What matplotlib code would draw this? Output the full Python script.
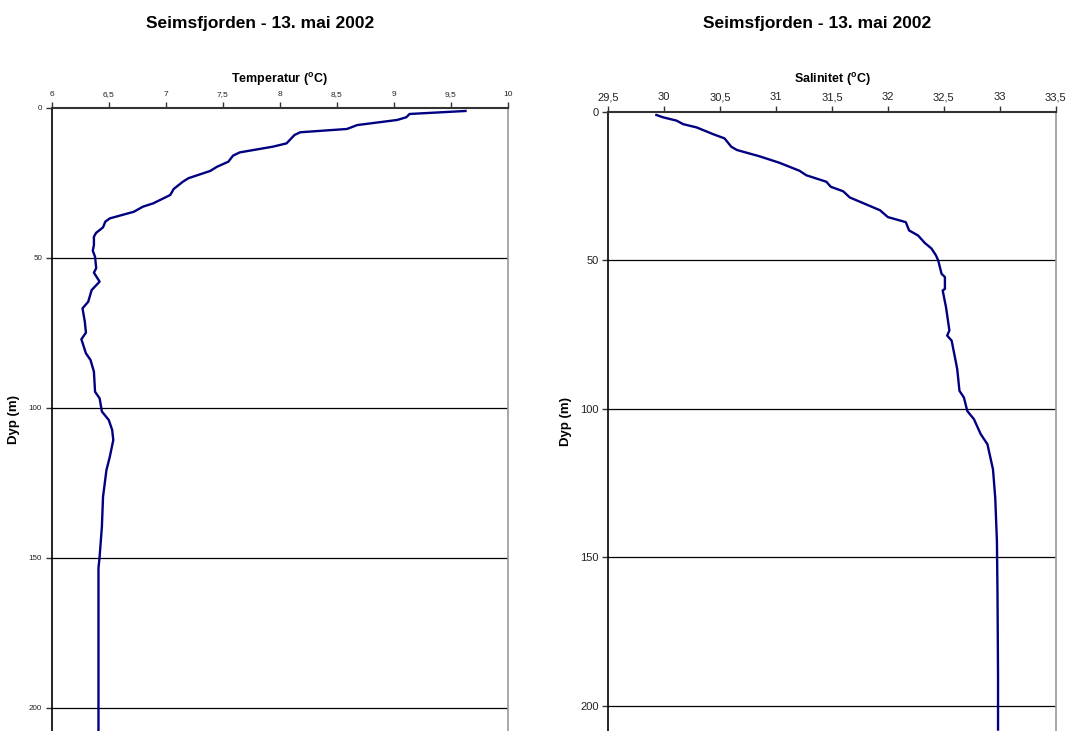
import matplotlib
matplotlib.use('Agg')
from matplotlib import pyplot as plt

plt.rcParams['font.family'] = ['Liberation Sans', 'DejaVu Sans']
plt.rcParams['mathtext.fontset'] = 'custom'
plt.rcParams['mathtext.rm'] = 'Liberation Sans'
plt.rcParams['mathtext.bf'] = 'Liberation Sans:bold'

# Temperature profile (depth in m, temperature in degC)
temp_depth = [1.1, 2.1, 3.2, 4.1, 5.8, 7.1, 8.2, 9.1, 11.9, 13.0, 14.9, 16.0, 18.0,
              19.7, 21.1, 23.5, 24.7, 27.1, 29.1, 31.9, 33.0, 34.7, 36.9, 38.0,
              39.9, 41.7, 43.0, 45.8, 47.7, 49.7, 53.5, 55.0, 58.0, 60.8, 64.7,
              66.9, 71.3, 75.0, 77.2, 81.9, 84.1, 88.0, 94.7, 96.9, 101.3, 104.1,
              107.4, 110.8, 116.3, 120.8, 129.7, 139.7, 149.7, 153.5, 175.0,
              198.0, 208.0]
temp = [9.63, 9.14, 9.11, 9.03, 8.68, 8.59, 8.18, 8.13, 8.06, 7.94, 7.65, 7.59, 7.55,
        7.45, 7.39, 7.20, 7.15, 7.07, 7.04, 6.89, 6.80, 6.72, 6.51, 6.47,
        6.45, 6.39, 6.37, 6.37, 6.36, 6.38, 6.39, 6.37, 6.42, 6.35, 6.32,
        6.27, 6.29, 6.30, 6.26, 6.30, 6.34, 6.37, 6.38, 6.42, 6.44, 6.50,
        6.53, 6.54, 6.51, 6.48, 6.45, 6.44, 6.42, 6.41, 6.41,
        6.41, 6.41]

# Salinity profile
sal_depth = [1.0, 1.8, 2.9, 4.1, 5.2, 7.5, 8.9, 11.7, 12.8, 14.9, 17.1, 19.8, 21.3,
             23.5, 25.2, 26.7, 28.8, 33.1, 35.4, 37.1, 39.9, 41.6, 44.1, 46.0,
             48.3, 50.0, 54.5, 55.6, 59.6, 60.1, 65.8, 73.6, 75.3, 77.0, 82.7,
             86.6, 93.9, 96.2, 100.7, 103.5, 108.5, 111.9, 120.4, 130.0, 144.6,
             161.5, 190.0, 208.0]
sal = [29.93, 29.99, 30.11, 30.17, 30.29, 30.44, 30.54, 30.60, 30.65, 30.85, 31.03,
       31.21, 31.27, 31.45, 31.49, 31.60, 31.66, 31.93, 32.00, 32.16, 32.19, 32.27,
       32.33, 32.39, 32.43, 32.45, 32.48, 32.51, 32.51, 32.49, 32.52, 32.55, 32.53,
       32.57, 32.60, 32.62, 32.64, 32.68, 32.71, 32.77, 32.83, 32.89, 32.94, 32.96,
       32.975, 32.98, 32.985, 32.985]

temp_ticks = [6, 6.5, 7, 7.5, 8, 8.5, 9, 9.5, 10]
sal_ticks = [29.5, 30, 30.5, 31, 31.5, 32, 32.5, 33, 33.5]
depth_ticks = [0, 50, 100, 150, 200]

title = 'Seimsfjorden - 13. mai 2002'
line_color = '#000080'

fig = plt.figure(figsize=(10.69, 7.31), dpi=100)


def fmt(v):
    return ('%g' % v).replace('.', ',')


def style_axis(ax, xticks, ylim, xfs, yfs):
    ax.set_xlim(xticks[0], xticks[-1])
    ax.set_ylim(ylim, 0)
    ax.xaxis.tick_top()
    ax.xaxis.set_label_position('top')
    ax.set_xticks(xticks)
    ax.set_xticklabels([fmt(t) for t in xticks], fontsize=xfs, color='#222222')
    ax.set_yticks(depth_ticks)
    ax.set_yticklabels([str(t) for t in depth_ticks], fontsize=yfs, color='#222222')
    ax.tick_params(axis='both', direction='out', length=4, width=1, pad=3, color='#333333')
    for y in depth_ticks[1:]:
        ax.axhline(y, color='black', lw=0.9, zorder=1)
    ax.spines['bottom'].set_visible(False)
    ax.spines['right'].set_color('#999999')
    ax.spines['right'].set_linewidth(1.2)
    ax.spines['left'].set_color('black')
    ax.spines['top'].set_color('#333333')
    ax.spines['top'].set_linewidth(1.5)
    ax.spines['left'].set_linewidth(1.2)


# Left panel: temperature
ax1 = fig.add_axes([0.0484, 0.0, 0.4265, 0.8527])
ax1.plot(temp, temp_depth, color=line_color, lw=1.7, zorder=3)
style_axis(ax1, temp_ticks, 207.8, 6, 5.8)
ax1.set_xlabel(r'Temperatur ($\mathbf{^o}$C)', fontsize=9, fontweight='bold', labelpad=6)
ax1.set_ylabel('Dyp (m)', fontsize=9.5, fontweight='bold')
ax1.yaxis.set_label_coords(-0.0695, 0.5)

# Right panel: salinity
ax2 = fig.add_axes([0.569, 0.0, 0.4185, 0.8468])
ax2.plot(sal, sal_depth, color=line_color, lw=1.7, zorder=3)
style_axis(ax2, sal_ticks, 208.5, 8, 8)
ax2.set_xlabel(r'Salinitet ($\mathbf{^o}$C)', fontsize=9, fontweight='bold', labelpad=7)
ax2.set_ylabel('Dyp (m)', fontsize=9.5, fontweight='bold')
ax2.yaxis.set_label_coords(-0.081, 0.5)

fig.text(0.2432, 0.9685, title, ha='center', va='center', fontsize=12.5, fontweight='bold')
fig.text(0.7643, 0.9685, title, ha='center', va='center', fontsize=12.5, fontweight='bold')

fig.savefig('out.png', dpi=100)
